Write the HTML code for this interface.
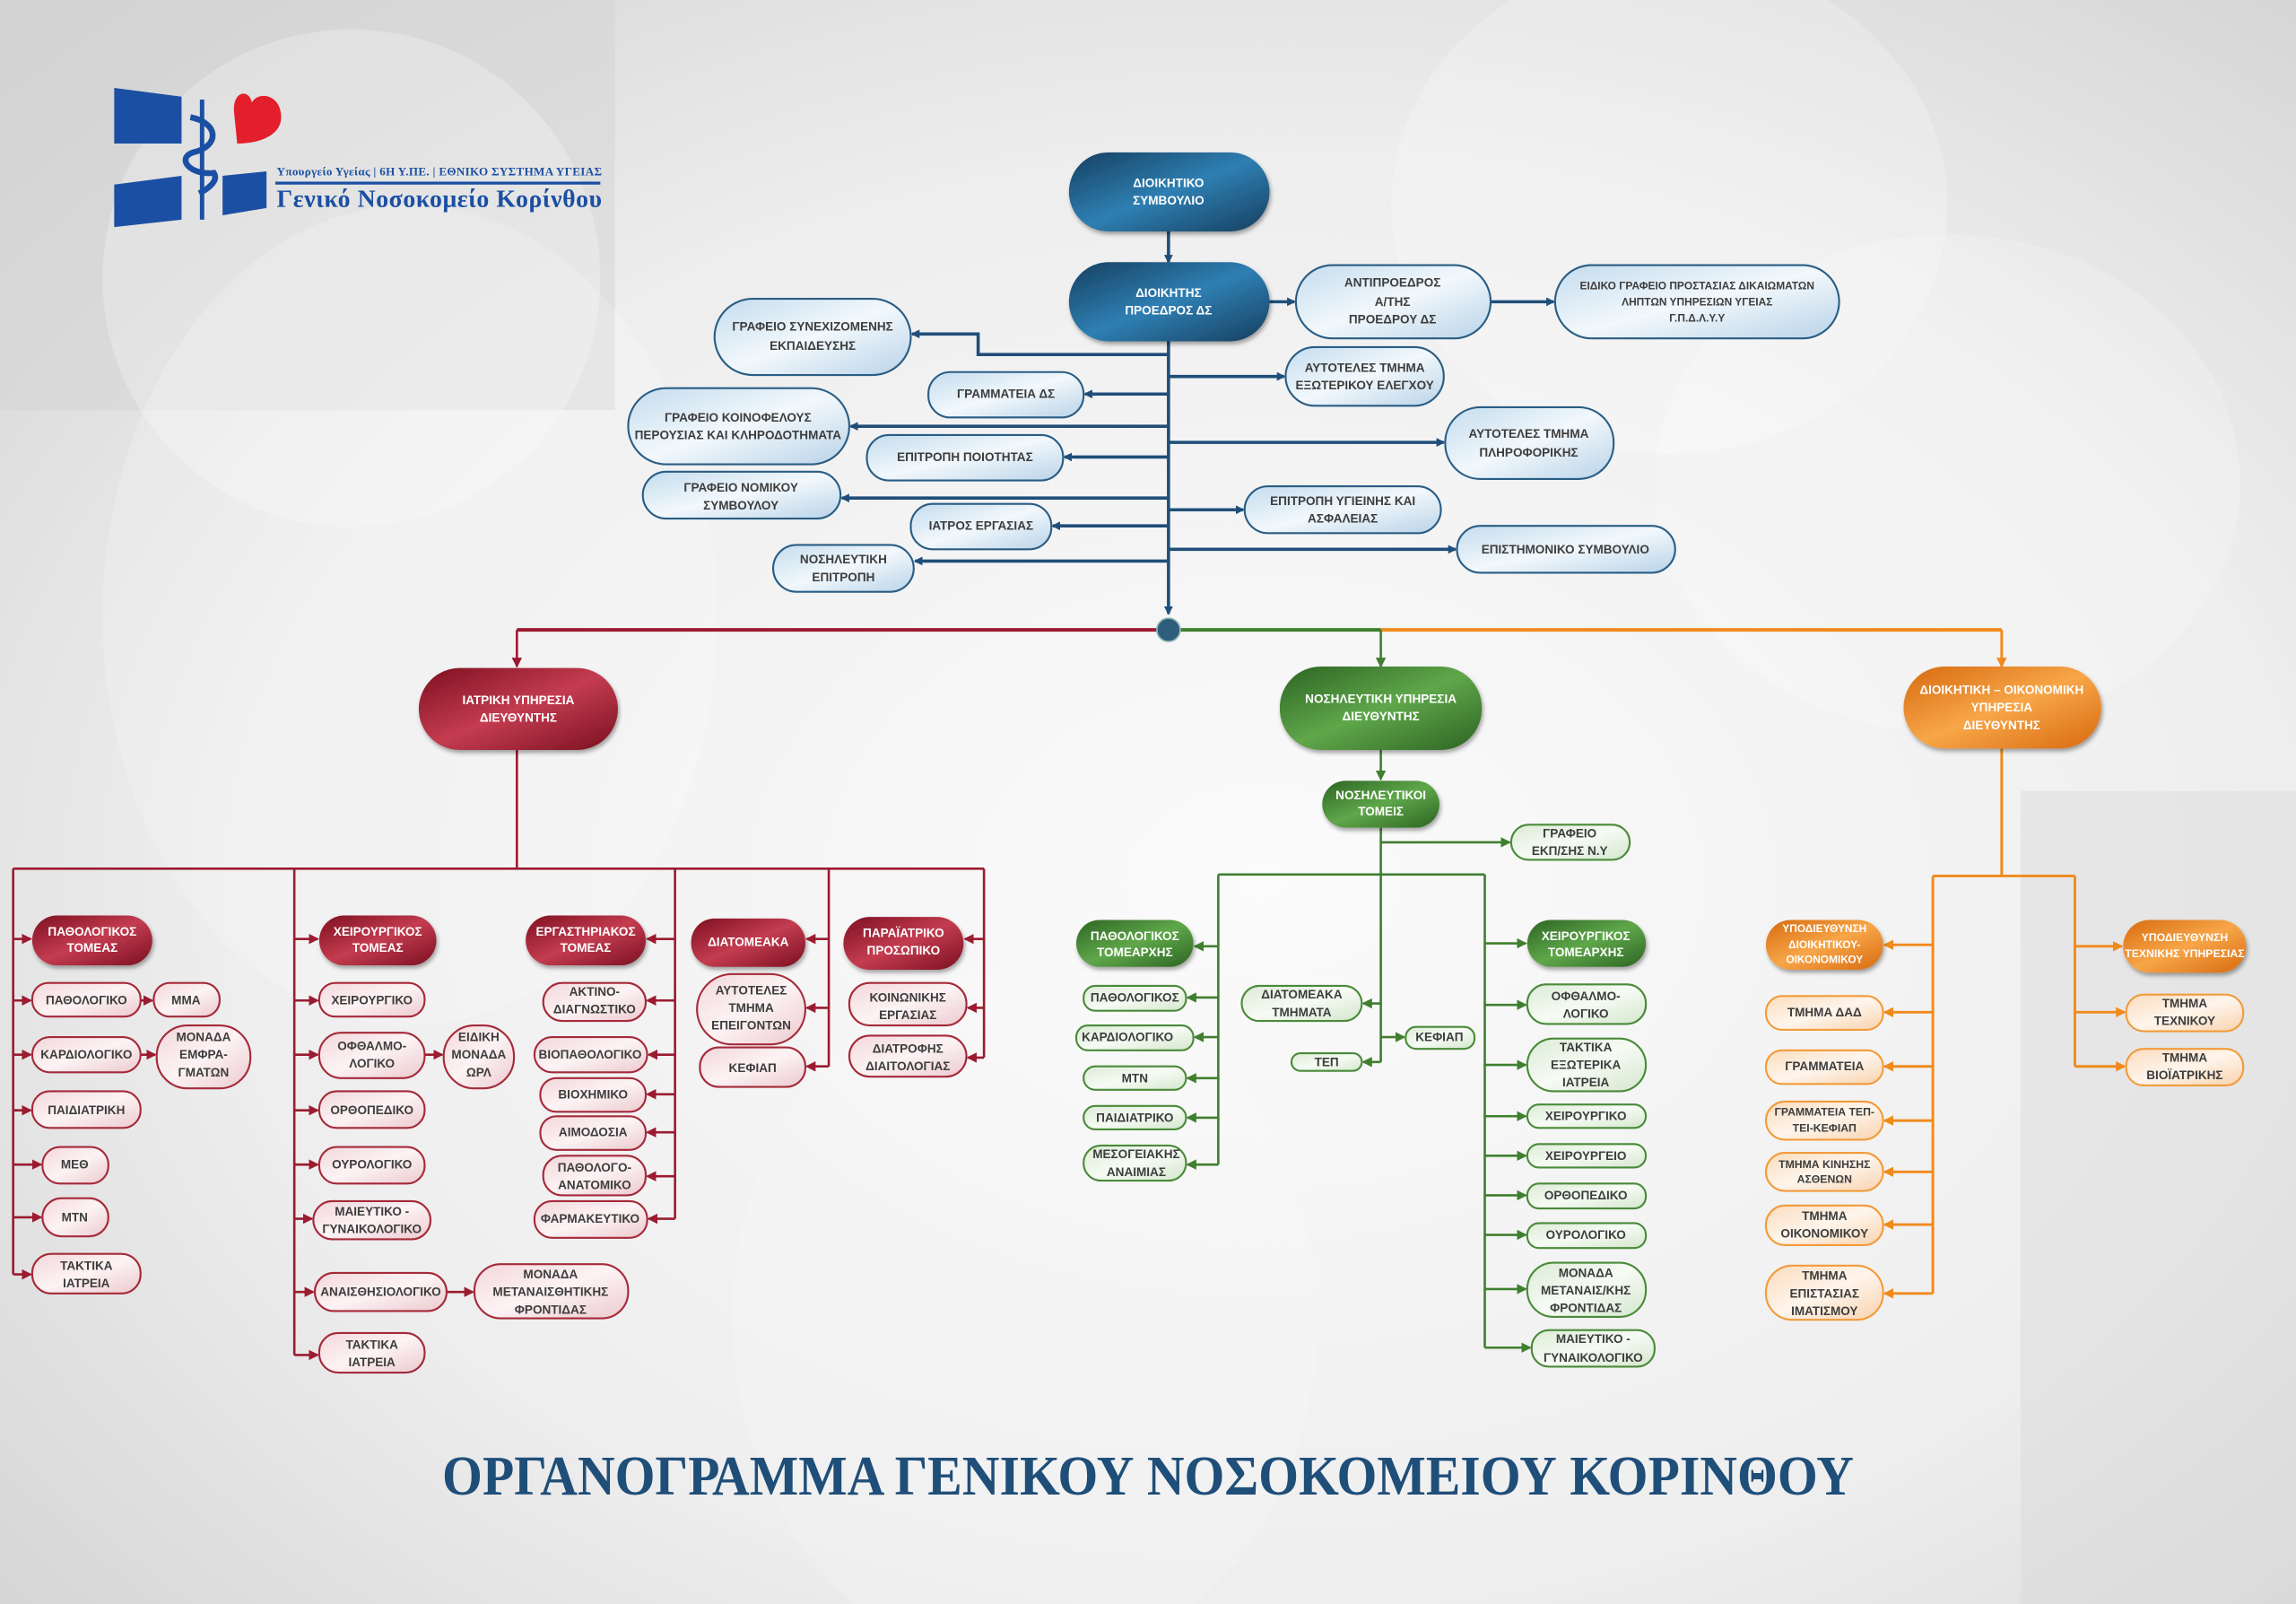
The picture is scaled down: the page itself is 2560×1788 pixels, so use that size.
<!DOCTYPE html>
<html><head><meta charset="utf-8"><style>
html,body{margin:0;padding:0;width:2560px;height:1788px;overflow:hidden;background:#e9e9e9}
svg{display:block}
text{font-family:"Liberation Sans Narrow","Liberation Sans",sans-serif;font-weight:bold;font-size:8.3px;text-anchor:middle;dominant-baseline:central;fill:#3d3d3d}
text.w{fill:#fff}
.bl{stroke:#1f4e79;stroke-width:2.2;fill:none}
.rd{stroke:#9b1b30;stroke-width:1.6;fill:none}
.gr{stroke:#3f7f2f;stroke-width:1.6;fill:none}
.or{stroke:#f08a1c;stroke-width:1.8;fill:none}
.lb{fill:url(#glb);stroke:#2a5d84;stroke-width:1.3}
.lr{fill:url(#glr);stroke:#a52a3a;stroke-width:1.3}
.lg{fill:url(#glg);stroke:#4a8a3a;stroke-width:1.3}
.lo{fill:url(#glo);stroke:#f29b3b;stroke-width:1.3}
.db{fill:url(#gdb);filter:url(#sh)}
.dr{fill:url(#gdr);filter:url(#sh)}
.dg{fill:url(#gdg);filter:url(#sh)}
.do{fill:url(#gdo);filter:url(#sh)}
</style></head><body>
<svg width="2560" height="1788" viewBox="0 0 1568 1095" preserveAspectRatio="none" xmlns="http://www.w3.org/2000/svg">
<defs>
<radialGradient id="bg" cx="0.55" cy="0.55" r="0.75"><stop offset="0" stop-color="#fbfbfb"/><stop offset="0.6" stop-color="#eeeeee"/><stop offset="1" stop-color="#d2d2d2"/></radialGradient>
<linearGradient id="glb" x1="0" y1="0" x2="1" y2="1"><stop offset="0" stop-color="#c4dcee"/><stop offset="0.5" stop-color="#f2f8fc"/><stop offset="1" stop-color="#b9d3e8"/></linearGradient>
<linearGradient id="glr" x1="0" y1="0" x2="1" y2="1"><stop offset="0" stop-color="#f3d7db"/><stop offset="0.5" stop-color="#fcf3f4"/><stop offset="1" stop-color="#ecc9ce"/></linearGradient>
<linearGradient id="glg" x1="0" y1="0" x2="1" y2="1"><stop offset="0" stop-color="#dbebd5"/><stop offset="0.5" stop-color="#f6fbf4"/><stop offset="1" stop-color="#d3e6cc"/></linearGradient>
<linearGradient id="glo" x1="0" y1="0" x2="1" y2="1"><stop offset="0" stop-color="#fbdcbd"/><stop offset="0.5" stop-color="#fef5ec"/><stop offset="1" stop-color="#f8d2ad"/></linearGradient>
<linearGradient id="gdb" x1="0" y1="0" x2="1" y2="1"><stop offset="0" stop-color="#15405f"/><stop offset="0.5" stop-color="#2f7fb3"/><stop offset="1" stop-color="#163f5e"/></linearGradient>
<linearGradient id="gdr" x1="0" y1="0" x2="1" y2="1"><stop offset="0" stop-color="#7d1020"/><stop offset="0.5" stop-color="#c43c50"/><stop offset="1" stop-color="#7a1020"/></linearGradient>
<linearGradient id="gdg" x1="0" y1="0" x2="1" y2="1"><stop offset="0" stop-color="#2c6422"/><stop offset="0.5" stop-color="#5fa74a"/><stop offset="1" stop-color="#2c6422"/></linearGradient>
<linearGradient id="gdo" x1="0" y1="0" x2="1" y2="1"><stop offset="0" stop-color="#d76a10"/><stop offset="0.5" stop-color="#f7a648"/><stop offset="1" stop-color="#d86a10"/></linearGradient>
<filter id="sh" x="-20%" y="-20%" width="140%" height="150%"><feDropShadow dx="1" dy="2" stdDeviation="1.5" flood-color="#000" flood-opacity="0.35"/></filter>
<marker id="ab" markerWidth="6" markerHeight="6" refX="5" refY="3" orient="auto" markerUnits="userSpaceOnUse"><path d="M0,0 L6,3 L0,6z" fill="#1f4e79"/></marker>
<marker id="ar" markerWidth="7" markerHeight="7" refX="6" refY="3.5" orient="auto" markerUnits="userSpaceOnUse"><path d="M0,0 L7,3.5 L0,7z" fill="#9b1b30"/></marker>
<marker id="ag" markerWidth="7" markerHeight="7" refX="6" refY="3.5" orient="auto" markerUnits="userSpaceOnUse"><path d="M0,0 L7,3.5 L0,7z" fill="#3f7f2f"/></marker>
<marker id="ao" markerWidth="7" markerHeight="7" refX="6" refY="3.5" orient="auto" markerUnits="userSpaceOnUse"><path d="M0,0 L7,3.5 L0,7z" fill="#f08a1c"/></marker>
</defs>
<rect x="0" y="0" width="1568" height="1095" fill="url(#bg)"/>
<rect x="0" y="0" width="420" height="280" fill="#d4d4d4" opacity="0.5"/>
<circle cx="240" cy="190" r="170" fill="#fff" opacity="0.25"/>
<ellipse cx="280" cy="420" rx="210" ry="280" fill="#fff" opacity="0.18"/>
<ellipse cx="1140" cy="140" rx="190" ry="170" fill="#fff" opacity="0.22"/>
<ellipse cx="1330" cy="330" rx="200" ry="170" fill="#fff" opacity="0.2"/>
<ellipse cx="700" cy="900" rx="200" ry="240" fill="#fff" opacity="0.15"/>
<rect x="1380" y="540" width="188" height="555" fill="#d8d8d8" opacity="0.4"/>

<!-- logo -->
<polygon points="78,60 124,66 124,98 78,98" fill="#1b4fa3"/>
<polygon points="78,126 124,120 124,150 78,155" fill="#1b4fa3"/>
<polygon points="152,120 182,117 182,142 152,147" fill="#1b4fa3"/>
<path d="M160,78 C158,62 170,60 172,70 C176,62 192,64 192,80 C192,92 178,98 162,98 Z" fill="#e21f2a"/>
<line x1="138" y1="68" x2="138" y2="150" stroke="#1b4fa3" stroke-width="3"/>
<path d="M130,80 C150,84 150,100 132,104 C120,108 130,120 146,118 C150,124 140,130 136,132" stroke="#1b4fa3" stroke-width="4" fill="none"/>
<text x="300" y="117" style="font-family:'Liberation Serif',serif;font-size:8px;fill:#1b4fa3" textLength="222">Υπουργείο Υγείας | 6Η Υ.ΠΕ. | ΕΘΝΙΚΟ ΣΥΣΤΗΜΑ ΥΓΕΙΑΣ</text>
<rect x="188" y="124" width="222" height="2" fill="#1b4fa3"/>
<text x="300" y="136" style="font-family:'Liberation Serif',serif;font-size:17px;fill:#1b4fa3" textLength="222">Γενικό Νοσοκομείο Κορίνθου</text>

<!-- blue connectors -->
<g class="bl">
<line x1="798" y1="158" x2="798" y2="179" marker-end="url(#ab)"/>
<line x1="798" y1="233" x2="798" y2="419" marker-end="url(#ab)"/>
<line x1="867" y1="206" x2="884" y2="206" marker-end="url(#ab)"/>
<line x1="1018" y1="206" x2="1061" y2="206" marker-end="url(#ab)"/>
<polyline points="798,242 668,242 668,228 623,228" marker-end="url(#ab)"/>
<line x1="798" y1="269" x2="741" y2="269" marker-end="url(#ab)"/>
<line x1="798" y1="257" x2="877" y2="257" marker-end="url(#ab)"/>
<line x1="798" y1="291" x2="581" y2="291" marker-end="url(#ab)"/>
<line x1="798" y1="302" x2="986" y2="302" marker-end="url(#ab)"/>
<line x1="798" y1="312" x2="727" y2="312" marker-end="url(#ab)"/>
<line x1="798" y1="340" x2="575" y2="340" marker-end="url(#ab)"/>
<line x1="798" y1="348" x2="849" y2="348" marker-end="url(#ab)"/>
<line x1="798" y1="359" x2="719" y2="359" marker-end="url(#ab)"/>
<line x1="798" y1="375" x2="994" y2="375" marker-end="url(#ab)"/>
<line x1="798" y1="383" x2="625" y2="383" marker-end="url(#ab)"/>
</g>
<!-- main bus -->
<line x1="353" y1="430" x2="798" y2="430" stroke="#9b1b30" stroke-width="2.5"/>
<line x1="798" y1="430" x2="943" y2="430" stroke="#3f7f2f" stroke-width="2.5"/>
<line x1="943" y1="430" x2="1367" y2="430" stroke="#f08a1c" stroke-width="2.5"/>
<line x1="353" y1="430" x2="353" y2="455" class="rd" stroke-width="2.5" marker-end="url(#ar)"/>
<line x1="943" y1="430" x2="943" y2="455" class="gr" stroke-width="2.5" marker-end="url(#ag)"/>
<line x1="1367" y1="430" x2="1367" y2="455" class="or" stroke-width="2.5" marker-end="url(#ao)"/>
<circle cx="798" cy="430" r="8" fill="#2d5f7d" stroke="#9bb" stroke-width="1"/>

<!-- red connectors -->
<g class="rd">
<line x1="353" y1="512" x2="353" y2="593"/>
<line x1="9" y1="593" x2="672" y2="593"/>
<line x1="9" y1="593" x2="9" y2="870"/>
<line x1="201" y1="593" x2="201" y2="925"/>
<line x1="461" y1="593" x2="461" y2="832"/>
<line x1="566" y1="593" x2="566" y2="728"/>
<line x1="672" y1="593" x2="672" y2="722"/>
<line x1="9" y1="641" x2="21" y2="641" marker-end="url(#ar)"/>
<line x1="9" y1="683" x2="21" y2="683" marker-end="url(#ar)"/>
<line x1="9" y1="720" x2="21" y2="720" marker-end="url(#ar)"/>
<line x1="9" y1="758" x2="21" y2="758" marker-end="url(#ar)"/>
<line x1="9" y1="795" x2="28" y2="795" marker-end="url(#ar)"/>
<line x1="9" y1="831" x2="28" y2="831" marker-end="url(#ar)"/>
<line x1="9" y1="870" x2="21" y2="870" marker-end="url(#ar)"/>
<line x1="96" y1="683" x2="104" y2="683" marker-end="url(#ar)"/>
<line x1="96" y1="720" x2="106" y2="720" marker-end="url(#ar)"/>
<line x1="201" y1="641" x2="217" y2="641" marker-end="url(#ar)"/>
<line x1="201" y1="683" x2="217" y2="683" marker-end="url(#ar)"/>
<line x1="201" y1="720" x2="217" y2="720" marker-end="url(#ar)"/>
<line x1="201" y1="758" x2="217" y2="758" marker-end="url(#ar)"/>
<line x1="201" y1="795" x2="217" y2="795" marker-end="url(#ar)"/>
<line x1="201" y1="832" x2="213" y2="832" marker-end="url(#ar)"/>
<line x1="201" y1="882" x2="214" y2="882" marker-end="url(#ar)"/>
<line x1="201" y1="925" x2="217" y2="925" marker-end="url(#ar)"/>
<line x1="290" y1="720" x2="302" y2="720" marker-end="url(#ar)"/>
<line x1="305" y1="882" x2="323" y2="882" marker-end="url(#ar)"/>
<line x1="461" y1="641" x2="442" y2="641" marker-end="url(#ar)"/>
<line x1="461" y1="683" x2="442" y2="683" marker-end="url(#ar)"/>
<line x1="461" y1="720" x2="443" y2="720" marker-end="url(#ar)"/>
<line x1="461" y1="747" x2="442" y2="747" marker-end="url(#ar)"/>
<line x1="461" y1="773" x2="442" y2="773" marker-end="url(#ar)"/>
<line x1="461" y1="803" x2="442" y2="803" marker-end="url(#ar)"/>
<line x1="461" y1="832" x2="443" y2="832" marker-end="url(#ar)"/>
<line x1="566" y1="641" x2="551" y2="641" marker-end="url(#ar)"/>
<line x1="566" y1="688" x2="551" y2="688" marker-end="url(#ar)"/>
<line x1="566" y1="728" x2="551" y2="728" marker-end="url(#ar)"/>
<line x1="672" y1="641" x2="659" y2="641" marker-end="url(#ar)"/>
<line x1="672" y1="688" x2="661" y2="688" marker-end="url(#ar)"/>
<line x1="672" y1="722" x2="661" y2="722" marker-end="url(#ar)"/>
</g>

<!-- green connectors -->
<g class="gr">
<line x1="943" y1="512" x2="943" y2="532" marker-end="url(#ag)"/>
<line x1="943" y1="565" x2="943" y2="725"/>
<line x1="943" y1="575" x2="1031" y2="575" marker-end="url(#ag)"/>
<line x1="832" y1="597" x2="1014" y2="597"/>
<line x1="832" y1="597" x2="832" y2="795"/>
<line x1="1014" y1="597" x2="1014" y2="920"/>
<line x1="832" y1="646" x2="816" y2="646" marker-end="url(#ag)"/>
<line x1="832" y1="681" x2="811" y2="681" marker-end="url(#ag)"/>
<line x1="832" y1="708" x2="816" y2="708" marker-end="url(#ag)"/>
<line x1="832" y1="736" x2="811" y2="736" marker-end="url(#ag)"/>
<line x1="832" y1="763" x2="811" y2="763" marker-end="url(#ag)"/>
<line x1="832" y1="795" x2="811" y2="795" marker-end="url(#ag)"/>
<line x1="943" y1="685" x2="931" y2="685" marker-end="url(#ag)"/>
<line x1="943" y1="725" x2="931" y2="725" marker-end="url(#ag)"/>
<line x1="943" y1="708" x2="959" y2="708" marker-end="url(#ag)"/>
<line x1="1014" y1="644" x2="1042" y2="644" marker-end="url(#ag)"/>
<line x1="1014" y1="686" x2="1042" y2="686" marker-end="url(#ag)"/>
<line x1="1014" y1="727" x2="1042" y2="727" marker-end="url(#ag)"/>
<line x1="1014" y1="762" x2="1042" y2="762" marker-end="url(#ag)"/>
<line x1="1014" y1="789" x2="1042" y2="789" marker-end="url(#ag)"/>
<line x1="1014" y1="816" x2="1042" y2="816" marker-end="url(#ag)"/>
<line x1="1014" y1="843" x2="1042" y2="843" marker-end="url(#ag)"/>
<line x1="1014" y1="880" x2="1042" y2="880" marker-end="url(#ag)"/>
<line x1="1014" y1="920" x2="1045" y2="920" marker-end="url(#ag)"/>
</g>

<!-- orange connectors -->
<g class="or">
<line x1="1367" y1="511" x2="1367" y2="598"/>
<line x1="1320" y1="598" x2="1417" y2="598"/>
<line x1="1320" y1="598" x2="1320" y2="883"/>
<line x1="1417" y1="598" x2="1417" y2="728"/>
<line x1="1320" y1="645" x2="1287" y2="645" marker-end="url(#ao)"/>
<line x1="1320" y1="691" x2="1287" y2="691" marker-end="url(#ao)"/>
<line x1="1320" y1="728" x2="1287" y2="728" marker-end="url(#ao)"/>
<line x1="1320" y1="765" x2="1287" y2="765" marker-end="url(#ao)"/>
<line x1="1320" y1="800" x2="1287" y2="800" marker-end="url(#ao)"/>
<line x1="1320" y1="836" x2="1287" y2="836" marker-end="url(#ao)"/>
<line x1="1320" y1="883" x2="1287" y2="883" marker-end="url(#ao)"/>
<line x1="1417" y1="646" x2="1449" y2="646" marker-end="url(#ao)"/>
<line x1="1417" y1="691" x2="1451" y2="691" marker-end="url(#ao)"/>
<line x1="1417" y1="728" x2="1451" y2="728" marker-end="url(#ao)"/>
</g>

<!-- blue nodes -->
<rect class="db" x="730" y="104" width="137" height="54" rx="27"/>
<text class="w" x="798" y="125">ΔΙΟΙΚΗΤΙΚΟ</text><text class="w" x="798" y="137">ΣΥΜΒΟΥΛΙΟ</text>
<rect class="db" x="730" y="179" width="137" height="54" rx="27"/>
<text class="w" x="798" y="200">ΔΙΟΙΚΗΤΗΣ</text><text class="w" x="798" y="212">ΠΡΟΕΔΡΟΣ ΔΣ</text>
<rect class="lb" x="885" y="181" width="133" height="50" rx="25"/>
<text x="951" y="193">ΑΝΤΙΠΡΟΕΔΡΟΣ</text><text x="951" y="206">Α/ΤΗΣ</text><text x="951" y="218">ΠΡΟΕΔΡΟΥ ΔΣ</text>
<rect class="lb" x="1062" y="181" width="194" height="50" rx="25"/>
<text x="1159" y="195" style="font-size:7.3px">ΕΙΔΙΚΟ ΓΡΑΦΕΙΟ ΠΡΟΣΤΑΣΙΑΣ ΔΙΚΑΙΩΜΑΤΩΝ</text><text x="1159" y="206" style="font-size:7.3px">ΛΗΠΤΩΝ ΥΠΗΡΕΣΙΩΝ ΥΓΕΙΑΣ</text><text x="1159" y="217" style="font-size:7.3px">Γ.Π.Δ.Λ.Υ.Υ</text>
<rect class="lb" x="878" y="237" width="108" height="40" rx="20"/>
<text x="932" y="251">ΑΥΤΟΤΕΛΕΣ ΤΜΗΜΑ</text><text x="932" y="263">ΕΞΩΤΕΡΙΚΟΥ ΕΛΕΓΧΟΥ</text>
<rect class="lb" x="987" y="278" width="115" height="49" rx="24"/>
<text x="1044" y="296">ΑΥΤΟΤΕΛΕΣ ΤΜΗΜΑ</text><text x="1044" y="309">ΠΛΗΡΟΦΟΡΙΚΗΣ</text>
<rect class="lb" x="850" y="332" width="134" height="32" rx="16"/>
<text x="917" y="342">ΕΠΙΤΡΟΠΗ ΥΓΙΕΙΝΗΣ ΚΑΙ</text><text x="917" y="354">ΑΣΦΑΛΕΙΑΣ</text>
<rect class="lb" x="995" y="359" width="149" height="32" rx="16"/>
<text x="1069" y="375">ΕΠΙΣΤΗΜΟΝΙΚΟ ΣΥΜΒΟΥΛΙΟ</text>
<rect class="lb" x="488" y="204" width="134" height="52" rx="26"/>
<text x="555" y="223">ΓΡΑΦΕΙΟ ΣΥΝΕΧΙΖΟΜΕΝΗΣ</text><text x="555" y="236">ΕΚΠΑΙΔΕΥΣΗΣ</text>
<rect class="lb" x="634" y="254" width="106" height="31" rx="15"/>
<text x="687" y="269">ΓΡΑΜΜΑΤΕΙΑ ΔΣ</text>
<rect class="lb" x="429" y="265" width="151" height="52" rx="26"/>
<text x="504" y="285">ΓΡΑΦΕΙΟ ΚΟΙΝΟΦΕΛΟΥΣ</text><text x="504" y="297">ΠΕΡΟΥΣΙΑΣ ΚΑΙ ΚΛΗΡΟΔΟΤΗΜΑΤΑ</text>
<rect class="lb" x="592" y="297" width="134" height="31" rx="15"/>
<text x="659" y="312">ΕΠΙΤΡΟΠΗ ΠΟΙΟΤΗΤΑΣ</text>
<rect class="lb" x="439" y="322" width="135" height="32" rx="16"/>
<text x="506" y="333">ΓΡΑΦΕΙΟ ΝΟΜΙΚΟΥ</text><text x="506" y="345">ΣΥΜΒΟΥΛΟΥ</text>
<rect class="lb" x="622" y="344" width="96" height="31" rx="15"/>
<text x="670" y="359">ΙΑΤΡΟΣ ΕΡΓΑΣΙΑΣ</text>
<rect class="lb" x="528" y="372" width="96" height="32" rx="16"/>
<text x="576" y="382">ΝΟΣΗΛΕΥΤΙΚΗ</text><text x="576" y="394">ΕΠΙΤΡΟΠΗ</text>

<!-- director nodes -->
<rect class="dr" x="286" y="456" width="136" height="56" rx="28"/>
<text class="w" x="354" y="478">ΙΑΤΡΙΚΗ ΥΠΗΡΕΣΙΑ</text><text class="w" x="354" y="490">ΔΙΕΥΘΥΝΤΗΣ</text>
<rect class="dg" x="874" y="455" width="138" height="57" rx="28"/>
<text class="w" x="943" y="477">ΝΟΣΗΛΕΥΤΙΚΗ ΥΠΗΡΕΣΙΑ</text><text class="w" x="943" y="489">ΔΙΕΥΘΥΝΤΗΣ</text>
<rect class="do" x="1300" y="455" width="135" height="56" rx="28"/>
<text class="w" x="1367" y="471">ΔΙΟΙΚΗΤΙΚΗ – ΟΙΚΟΝΟΜΙΚΗ</text><text class="w" x="1367" y="483">ΥΠΗΡΕΣΙΑ</text><text class="w" x="1367" y="495">ΔΙΕΥΘΥΝΤΗΣ</text>

<!-- red nodes -->
<rect class="dr" x="22" y="625" width="82" height="34" rx="17"/><text class="w" x="63" y="636">ΠΑΘΟΛΟΓΙΚΟΣ</text><text class="w" x="63" y="647">ΤΟΜΕΑΣ</text>
<rect class="lr" x="22" y="671" width="74" height="23" rx="11"/><text x="59" y="683">ΠΑΘΟΛΟΓΙΚΟ</text>
<rect class="lr" x="105" y="671" width="45" height="23" rx="11"/><text x="127" y="683">ΜΜΑ</text>
<rect class="lr" x="22" y="708" width="74" height="24" rx="12"/><text x="59" y="720">ΚΑΡΔΙΟΛΟΓΙΚΟ</text>
<rect class="lr" x="107" y="700" width="64" height="43" rx="21"/><text x="139" y="708">ΜΟΝΑΔΑ</text><text x="139" y="720">ΕΜΦΡΑ-</text><text x="139" y="732">ΓΜΑΤΩΝ</text>
<rect class="lr" x="22" y="745" width="74" height="25" rx="12"/><text x="59" y="758">ΠΑΙΔΙΑΤΡΙΚΗ</text>
<rect class="lr" x="29" y="783" width="45" height="25" rx="12"/><text x="51" y="795">ΜΕΘ</text>
<rect class="lr" x="29" y="818" width="45" height="26" rx="13"/><text x="51" y="831">ΜΤΝ</text>
<rect class="lr" x="22" y="856" width="74" height="27" rx="13"/><text x="59" y="864">ΤΑΚΤΙΚΑ</text><text x="59" y="876">ΙΑΤΡΕΙΑ</text>

<rect class="dr" x="218" y="625" width="80" height="34" rx="17"/><text class="w" x="258" y="636">ΧΕΙΡΟΥΡΓΙΚΟΣ</text><text class="w" x="258" y="647">ΤΟΜΕΑΣ</text>
<rect class="lr" x="218" y="671" width="72" height="23" rx="11"/><text x="254" y="683">ΧΕΙΡΟΥΡΓΙΚΟ</text>
<rect class="lr" x="218" y="705" width="72" height="31" rx="15"/><text x="254" y="714">ΟΦΘΑΛΜΟ-</text><text x="254" y="726">ΛΟΓΙΚΟ</text>
<rect class="lr" x="303" y="700" width="48" height="43" rx="21"/><text x="327" y="708">ΕΙΔΙΚΗ</text><text x="327" y="720">ΜΟΝΑΔΑ</text><text x="327" y="732">ΩΡΛ</text>
<rect class="lr" x="218" y="745" width="72" height="25" rx="12"/><text x="254" y="758">ΟΡΘΟΠΕΔΙΚΟ</text>
<rect class="lr" x="218" y="783" width="72" height="25" rx="12"/><text x="254" y="795">ΟΥΡΟΛΟΓΙΚΟ</text>
<rect class="lr" x="214" y="820" width="80" height="26" rx="13"/><text x="254" y="827">ΜΑΙΕΥΤΙΚΟ -</text><text x="254" y="839">ΓΥΝΑΙΚΟΛΟΓΙΚΟ</text>
<rect class="lr" x="215" y="869" width="90" height="26" rx="13"/><text x="260" y="882">ΑΝΑΙΣΘΗΣΙΟΛΟΓΙΚΟ</text>
<rect class="lr" x="324" y="863" width="105" height="37" rx="18"/><text x="376" y="870">ΜΟΝΑΔΑ</text><text x="376" y="882">ΜΕΤΑΝΑΙΣΘΗΤΙΚΗΣ</text><text x="376" y="894">ΦΡΟΝΤΙΔΑΣ</text>
<rect class="lr" x="218" y="910" width="72" height="27" rx="13"/><text x="254" y="918">ΤΑΚΤΙΚΑ</text><text x="254" y="930">ΙΑΤΡΕΙΑ</text>

<rect class="dr" x="359" y="625" width="82" height="34" rx="17"/><text class="w" x="400" y="636">ΕΡΓΑΣΤΗΡΙΑΚΟΣ</text><text class="w" x="400" y="647">ΤΟΜΕΑΣ</text>
<rect class="lr" x="371" y="671" width="70" height="26" rx="13"/><text x="406" y="677">ΑΚΤΙΝΟ-</text><text x="406" y="689">ΔΙΑΓΝΩΣΤΙΚΟ</text>
<rect class="lr" x="365" y="708" width="77" height="24" rx="12"/><text x="403" y="720">ΒΙΟΠΑΘΟΛΟΓΙΚΟ</text>
<rect class="lr" x="369" y="736" width="72" height="23" rx="11"/><text x="405" y="747">ΒΙΟΧΗΜΙΚΟ</text>
<rect class="lr" x="369" y="762" width="72" height="23" rx="11"/><text x="405" y="773">ΑΙΜΟΔΟΣΙΑ</text>
<rect class="lr" x="371" y="789" width="70" height="27" rx="13"/><text x="406" y="797">ΠΑΘΟΛΟΓΟ-</text><text x="406" y="809">ΑΝΑΤΟΜΙΚΟ</text>
<rect class="lr" x="365" y="820" width="77" height="25" rx="12"/><text x="403" y="832">ΦΑΡΜΑΚΕΥΤΙΚΟ</text>

<rect class="dr" x="472" y="627" width="78" height="33" rx="16"/><text class="w" x="511" y="643">ΔΙΑΤΟΜΕΑΚΑ</text>
<rect class="lr" x="476" y="665" width="74" height="48" rx="24"/><text x="513" y="676">ΑΥΤΟΤΕΛΕΣ</text><text x="513" y="688">ΤΜΗΜΑ</text><text x="513" y="700">ΕΠΕΙΓΟΝΤΩΝ</text>
<rect class="lr" x="478" y="715" width="72" height="27" rx="13"/><text x="514" y="729">ΚΕΦΙΑΠ</text>

<rect class="dr" x="576" y="626" width="82" height="36" rx="18"/><text class="w" x="617" y="637">ΠΑΡΑΪΑΤΡΙΚΟ</text><text class="w" x="617" y="649">ΠΡΟΣΩΠΙΚΟ</text>
<rect class="lr" x="580" y="671" width="80" height="29" rx="14"/><text x="620" y="681">ΚΟΙΝΩΝΙΚΗΣ</text><text x="620" y="693">ΕΡΓΑΣΙΑΣ</text>
<rect class="lr" x="580" y="707" width="80" height="28" rx="14"/><text x="620" y="716">ΔΙΑΤΡΟΦΗΣ</text><text x="620" y="728">ΔΙΑΙΤΟΛΟΓΙΑΣ</text>

<!-- green nodes -->
<rect class="dg" x="903" y="533" width="80" height="32" rx="16"/><text class="w" x="943" y="543">ΝΟΣΗΛΕΥΤΙΚΟΙ</text><text class="w" x="943" y="554">ΤΟΜΕΙΣ</text>
<rect class="lg" x="1032" y="563" width="81" height="24" rx="12"/><text x="1072" y="569">ΓΡΑΦΕΙΟ</text><text x="1072" y="581">ΕΚΠ/ΣΗΣ Ν.Υ</text>
<rect class="dg" x="735" y="628" width="80" height="32" rx="16"/><text class="w" x="775" y="639">ΠΑΘΟΛΟΓΙΚΟΣ</text><text class="w" x="775" y="650">ΤΟΜΕΑΡΧΗΣ</text>
<rect class="lg" x="740" y="673" width="70" height="17" rx="8"/><text x="775" y="681">ΠΑΘΟΛΟΓΙΚΟΣ</text>
<rect class="lg" x="735" y="700" width="80" height="17" rx="8"/><text x="770" y="708">ΚΑΡΔΙΟΛΟΓΙΚΟ</text>
<rect class="lg" x="740" y="728" width="70" height="16" rx="8"/><text x="775" y="736">ΜΤΝ</text>
<rect class="lg" x="740" y="755" width="70" height="16" rx="8"/><text x="775" y="763">ΠΑΙΔΙΑΤΡΙΚΟ</text>
<rect class="lg" x="740" y="782" width="70" height="24" rx="12"/><text x="776" y="788">ΜΕΣΟΓΕΙΑΚΗΣ</text><text x="776" y="800">ΑΝΑΙΜΙΑΣ</text>
<rect class="lg" x="848" y="673" width="82" height="24" rx="12"/><text x="889" y="679">ΔΙΑΤΟΜΕΑΚΑ</text><text x="889" y="691">ΤΜΗΜΑΤΑ</text>
<rect class="lg" x="882" y="719" width="48" height="12" rx="6"/><text x="906" y="725">ΤΕΠ</text>
<rect class="lg" x="960" y="701" width="47" height="15" rx="7"/><text x="983" y="708">ΚΕΦΙΑΠ</text>
<rect class="dg" x="1043" y="628" width="81" height="32" rx="16"/><text class="w" x="1083" y="639">ΧΕΙΡΟΥΡΓΙΚΟΣ</text><text class="w" x="1083" y="650">ΤΟΜΕΑΡΧΗΣ</text>
<rect class="lg" x="1043" y="672" width="81" height="27" rx="13"/><text x="1083" y="680">ΟΦΘΑΛΜΟ-</text><text x="1083" y="692">ΛΟΓΙΚΟ</text>
<rect class="lg" x="1043" y="709" width="81" height="36" rx="18"/><text x="1083" y="715">ΤΑΚΤΙΚΑ</text><text x="1083" y="727">ΕΞΩΤΕΡΙΚΑ</text><text x="1083" y="739">ΙΑΤΡΕΙΑ</text>
<rect class="lg" x="1043" y="754" width="81" height="16" rx="8"/><text x="1083" y="762">ΧΕΙΡΟΥΡΓΙΚΟ</text>
<rect class="lg" x="1043" y="781" width="81" height="16" rx="8"/><text x="1083" y="789">ΧΕΙΡΟΥΡΓΕΙΟ</text>
<rect class="lg" x="1043" y="808" width="81" height="17" rx="8"/><text x="1083" y="816">ΟΡΘΟΠΕΔΙΚΟ</text>
<rect class="lg" x="1043" y="835" width="81" height="17" rx="8"/><text x="1083" y="843">ΟΥΡΟΛΟΓΙΚΟ</text>
<rect class="lg" x="1043" y="862" width="81" height="37" rx="18"/><text x="1083" y="869">ΜΟΝΑΔΑ</text><text x="1083" y="881">ΜΕΤΑΝΑΙΣ/ΚΗΣ</text><text x="1083" y="893">ΦΡΟΝΤΙΔΑΣ</text>
<rect class="lg" x="1046" y="908" width="84" height="25" rx="12"/><text x="1088" y="914">ΜΑΙΕΥΤΙΚΟ -</text><text x="1088" y="927">ΓΥΝΑΙΚΟΛΟΓΙΚΟ</text>

<!-- orange nodes -->
<rect class="do" x="1206" y="628" width="80" height="34" rx="17"/><text class="w" x="1246" y="634" style="font-size:7.3px">ΥΠΟΔΙΕΥΘΥΝΣΗ</text><text class="w" x="1246" y="645" style="font-size:7.3px">ΔΙΟΙΚΗΤΙΚΟΥ-</text><text class="w" x="1246" y="655" style="font-size:7.3px">ΟΙΚΟΝΟΜΙΚΟΥ</text>
<rect class="lo" x="1206" y="680" width="80" height="23" rx="11"/><text x="1246" y="691">ΤΜΗΜΑ ΔΑΔ</text>
<rect class="lo" x="1206" y="717" width="80" height="23" rx="11"/><text x="1246" y="728">ΓΡΑΜΜΑΤΕΙΑ</text>
<rect class="lo" x="1206" y="752" width="80" height="26" rx="13"/><text x="1246" y="759" style="font-size:7.5px">ΓΡΑΜΜΑΤΕΙΑ ΤΕΠ-</text><text x="1246" y="770" style="font-size:7.5px">ΤΕΙ-ΚΕΦΙΑΠ</text>
<rect class="lo" x="1206" y="787" width="80" height="26" rx="13"/><text x="1246" y="795" style="font-size:7.5px">ΤΜΗΜΑ ΚΙΝΗΣΗΣ</text><text x="1246" y="805" style="font-size:7.5px">ΑΣΘΕΝΩΝ</text>
<rect class="lo" x="1206" y="823" width="80" height="27" rx="13"/><text x="1246" y="830">ΤΜΗΜΑ</text><text x="1246" y="842">ΟΙΚΟΝΟΜΙΚΟΥ</text>
<rect class="lo" x="1206" y="864" width="80" height="37" rx="18"/><text x="1246" y="871">ΤΜΗΜΑ</text><text x="1246" y="883">ΕΠΙΣΤΑΣΙΑΣ</text><text x="1246" y="895">ΙΜΑΤΙΣΜΟΥ</text>
<rect class="do" x="1450" y="628" width="84" height="36" rx="18"/><text class="w" x="1492" y="640" style="font-size:7.5px">ΥΠΟΔΙΕΥΘΥΝΣΗ</text><text class="w" x="1492" y="651" style="font-size:7.5px">ΤΕΧΝΙΚΗΣ ΥΠΗΡΕΣΙΑΣ</text>
<rect class="lo" x="1452" y="679" width="80" height="25" rx="12"/><text x="1492" y="685">ΤΜΗΜΑ</text><text x="1492" y="697">ΤΕΧΝΙΚΟΥ</text>
<rect class="lo" x="1452" y="716" width="80" height="25" rx="12"/><text x="1492" y="722">ΤΜΗΜΑ</text><text x="1492" y="734">ΒΙΟΪΑΤΡΙΚΗΣ</text>

<!-- title -->
<text x="784" y="1008" textLength="964" lengthAdjust="spacingAndGlyphs" style="font-family:'Liberation Serif',serif;font-weight:bold;font-size:38px;fill:#1f4e79">ΟΡΓΑΝΟΓΡΑΜΜΑ ΓΕΝΙΚΟΥ ΝΟΣΟΚΟΜΕΙΟΥ ΚΟΡΙΝΘΟΥ</text>
</svg>
</body></html>
